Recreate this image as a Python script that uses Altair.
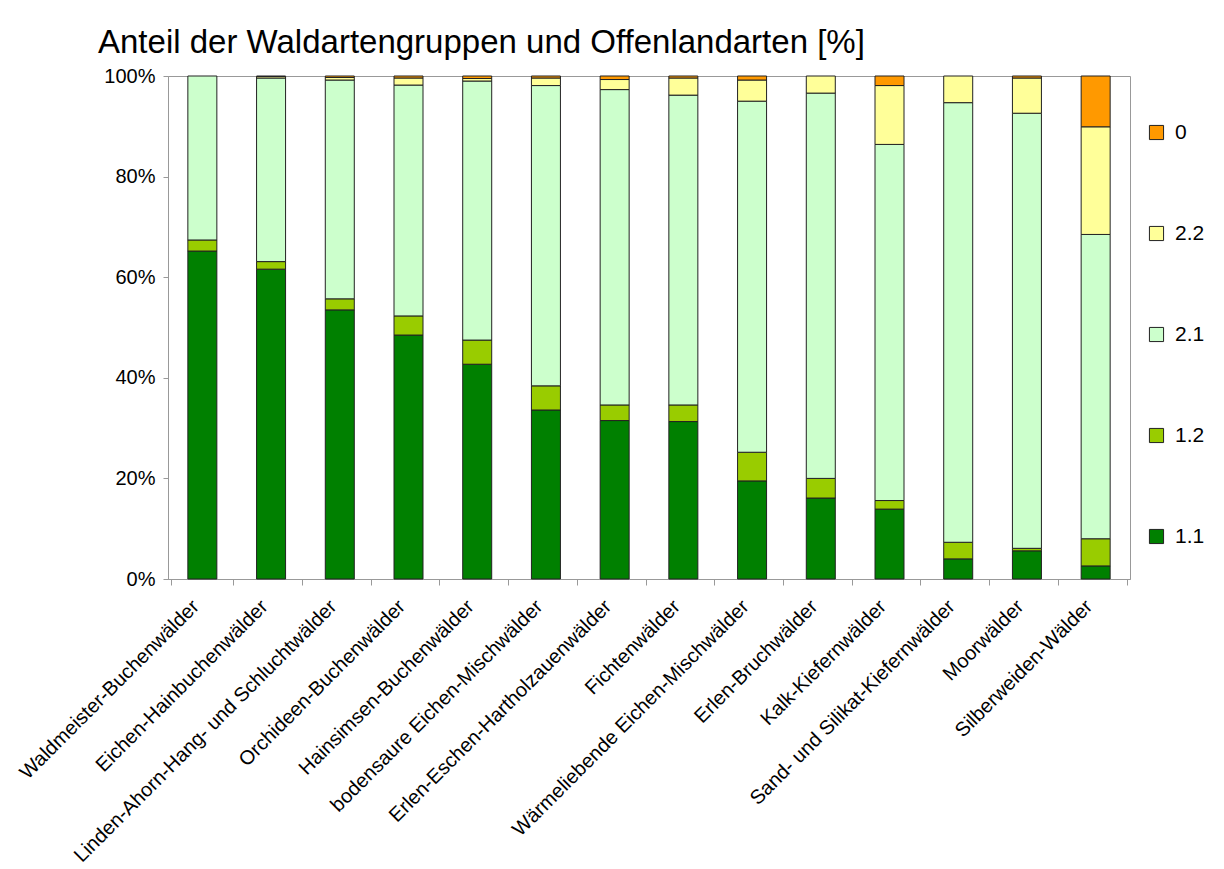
import altair as alt
import pandas as pd

categories = [
    "Waldmeister-Buchenwälder",
    "Eichen-Hainbuchenwälder",
    "Linden-Ahorn-Hang- und Schluchtwälder",
    "Orchideen-Buchenwälder",
    "Hainsimsen-Buchenwälder",
    "bodensaure Eichen-Mischwälder",
    "Erlen-Eschen-Hartholzauenwälder",
    "Fichtenwälder",
    "Wärmeliebende Eichen-Mischwälder",
    "Erlen-Bruchwälder",
    "Kalk-Kiefernwälder",
    "Sand- und Silikat-Kiefernwälder",
    "Moorwälder",
    "Silberweiden-Wälder",
]
groups = ["1.1", "1.2", "2.1", "2.2", "0"]
colors = ["#008000", "#99CC00", "#CCFFCC", "#FFFF99", "#FF9900"]

s_11 = [65.2, 61.6, 53.5, 48.5, 42.7, 33.6, 31.5, 31.3, 19.5, 16.1, 13.9, 4.0, 5.6, 2.6]
s_12 = [2.2, 1.5, 2.2, 3.8, 4.8, 4.8, 3.1, 3.3, 5.7, 3.9, 1.7, 3.3, 0.5, 5.4]
s_21 = [32.6, 36.5, 43.5, 45.9, 51.5, 59.7, 62.7, 61.6, 69.8, 76.6, 70.8, 87.4, 86.5, 60.5]
s_22 = [0.0, 0.3, 0.5, 1.4, 0.5, 1.5, 2.0, 3.4, 4.2, 3.4, 11.7, 5.3, 7.0, 21.4]
s_0 = [0.0, 0.1, 0.3, 0.4, 0.5, 0.4, 0.7, 0.4, 0.8, 0.0, 1.9, 0.0, 0.4, 10.1]

series = [s_11, s_12, s_21, s_22, s_0]
rows = []
for gi, (g, vals) in enumerate(zip(groups, series)):
    for c, v in zip(categories, vals):
        if v > 0:
            rows.append({"Kategorie": c, "Gruppe": g, "Wert": v, "ord": gi})
df = pd.DataFrame(rows)

legend_order = ["0", "2.2", "2.1", "1.2", "1.1"]
legend_colors = [colors[groups.index(g)] for g in legend_order]

chart = alt.Chart(df).mark_bar(
    size=29, stroke="#222222", strokeWidth=1
).encode(
    x=alt.X("Kategorie:N", sort=categories, title=None,
            axis=alt.Axis(labelAngle=-45, labelFontSize=20, labelColor="black",
                          labelFont="Liberation Sans", domainColor="#999999",
                          tickColor="#999999", tickBand="extent", tickSize=6,
                          labelPadding=11, labelOffset=-14, labelLimit=500)),
    y=alt.Y("Wert:Q", stack="normalize", title=None,
            scale=alt.Scale(domain=[0, 1]),
            axis=alt.Axis(format=".0%", values=[0, 0.2, 0.4, 0.6, 0.8, 1.0],
                          labelFontSize=20, labelColor="black",
                          labelFont="Liberation Sans", domainColor="#999999",
                          tickColor="#999999", tickSize=5, grid=False,
                          labelPadding=8)),
    color=alt.Color("Gruppe:N",
                    scale=alt.Scale(domain=legend_order, range=legend_colors),
                    legend=alt.Legend(title=None, orient="none", legendX=978, legendY=46,
                                      symbolType="square", symbolSize=200,
                                      symbolStrokeColor="#222222", symbolStrokeWidth=1,
                                      labelFontSize=21, labelFont="Liberation Sans",
                                      labelColor="black", rowPadding=79,
                                      labelOffset=8)),
    order=alt.Order("ord:Q", sort="ascending"),
).properties(
    width=962, height=503,
    title=alt.TitleParams("Anteil der Waldartengruppen und Offenlandarten [%]",
                          anchor="start", frame="group", dx=-70, offset=6, fontSize=33,
                          font="Liberation Sans", fontWeight="normal", color="black"),
    autosize=alt.AutoSizeParams(type="none"),
    padding={"left": 160, "top": 68, "right": 86, "bottom": 288},
).configure_view(stroke="#999999", strokeWidth=1)

chart.save("out.html", embed_options={"renderer": "svg", "actions": False})
